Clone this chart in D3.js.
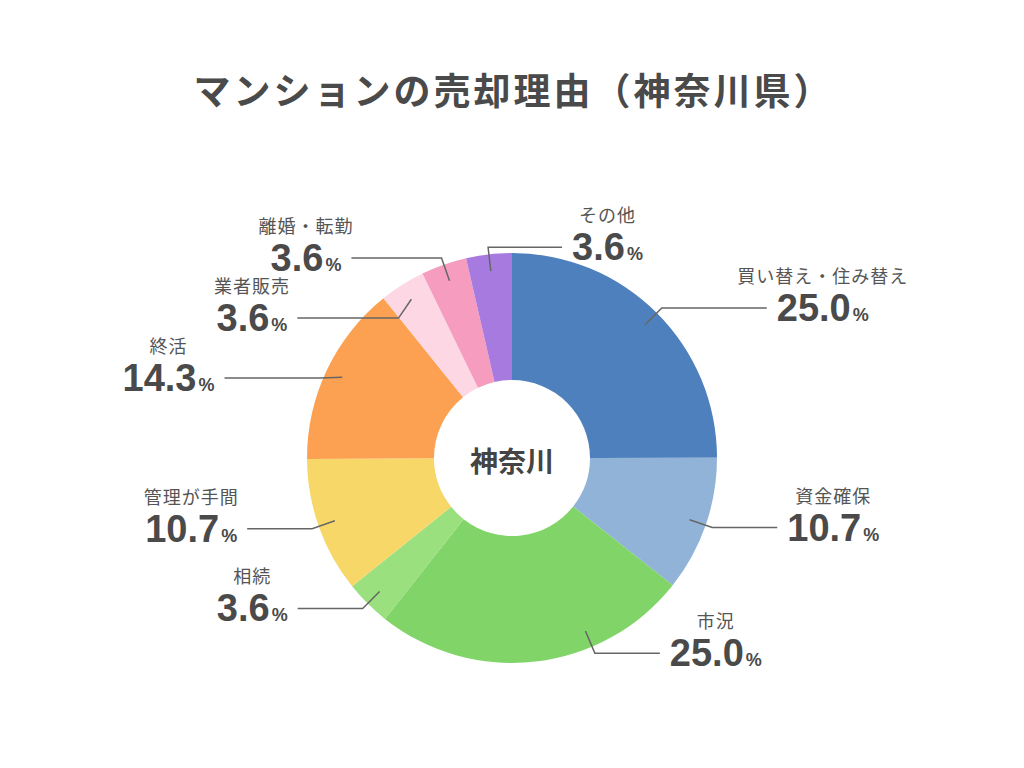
<!DOCTYPE html>
<html>
<head>
<meta charset="utf-8">
<script src="https://cdn.jsdelivr.net/npm/d3@7"></script>
<style>
  body { margin: 0; background: #fff; }
</style>
</head>
<body>
<div id="chart"></div>
<script>
var chartTitle = 'マンションの売却理由（神奈川県）';
var centerLabel = '神奈川';
var categories = ['買い替え・住み替え', '資金確保', '市況', '相続', '管理が手間', '終活', '業者販売', '離婚・転勤', 'その他'];
var shares = [25.0, 10.7, 25.0, 3.6, 10.7, 14.3, 3.6, 3.6, 3.6];
var colors = ['#4e80bd', '#92b3d8', '#80d468', '#9ae07f', '#f7d768', '#fca152', '#fdd8e4', '#f59cbf', '#a77ae0'];

var width = 1024;
var height = 768;
var cx = 512;
var cy = 458;
var outerR = 205;
var innerR = 78;

var svg = d3
  .select('#chart')
  .append('svg')
  .attr('width', width)
  .attr('height', height);

svg
  .append('text')
  .attr('x', cx)
  .attr('y', 89)
  .attr('text-anchor', 'middle')
  .attr('dominant-baseline', 'central')
  .attr('fill', '#4a4a4a')
  .attr('textLength', 637)
  .attr('lengthAdjust', 'spacing')
  .style('font', 'bold 37px "Noto Sans CJK JP"')
  .text(chartTitle);

var g = svg.append('g').attr('transform', 'translate(' + cx + ',' + cy + ')');

var pie = d3
  .pie()
  .sort(null)
  .value(function (d) {
    return d;
  });
var arcs = pie(shares);

var arc = d3.arc().innerRadius(innerR).outerRadius(outerR);

g.selectAll('path.slice')
  .data(arcs)
  .enter()
  .append('path')
  .attr('class', 'slice')
  .attr('d', arc)
  .attr('fill', function (d, i) {
    return colors[i];
  });

g.append('text')
  .attr('x', 0)
  .attr('y', 2)
  .attr('text-anchor', 'middle')
  .attr('dominant-baseline', 'central')
  .attr('fill', '#444')
  .style('font', 'bold 28px "Noto Sans CJK JP"')
  .text(centerLabel);

// leader lines + labels
function polar(a, r) {
  return [Math.sin(a) * r, -Math.cos(a) * r];
}

var labels = arcs.map(function (d, i) {
  var a = (d.startAngle + d.endAngle) / 2;
  // keep lines away from the very bottom of the ring
  var limit = (157 / 180) * Math.PI;
  if (a > limit && a < Math.PI) a = limit;
  var p0 = polar(a, 188);
  var p1 = polar(a, 212);
  var hLen = 65 + 80 * Math.max(0, Math.cos(a)) * Math.abs(Math.sin(a));
  return { i: i, a: a, p0: p0, p1: p1, hLen: hLen, right: Math.sin(a) > -0.15 };
});

var minGap = 60;
[true, false].forEach(function (side) {
  var list = labels
    .filter(function (l) {
      return l.right === side;
    })
    .sort(function (a, b) {
      return a.p1[1] - b.p1[1];
    });
  for (var k = 1; k < list.length; k++) {
    if (list[k].p1[1] - list[k - 1].p1[1] < minGap) {
      list[k].p1 = [list[k].p1[0], list[k - 1].p1[1] + minGap];
    }
  }
});

labels.forEach(function (l) {
  var endX = l.right ? l.p1[0] + l.hLen : l.p1[0] - l.hLen;
  g.append('polyline')
    .attr('points', [l.p0, l.p1, [endX, l.p1[1]]].join(' '))
    .attr('fill', 'none')
    .attr('stroke', '#666')
    .attr('stroke-width', 1.5);

  var tx = l.right ? endX + 10 : endX - 10;
  var val = g
    .append('text')
    .attr('x', tx)
    .attr('y', l.p1[1] + 13)
    .attr('text-anchor', l.right ? 'start' : 'end')
    .attr('fill', '#4a4a4a')
    .style('font', 'bold 38px "Liberation Sans", Arial, sans-serif');
  val.append('tspan').text(shares[l.i].toFixed(1));
  val
    .append('tspan')
    .attr('dx', 2)
    .style('font-size', '18px')
    .text('%');

  var bb = val.node().getBBox();
  g.append('text')
    .attr('x', bb.x + bb.width / 2)
    .attr('y', l.p1[1] - 25)
    .attr('text-anchor', 'middle')
    .attr('fill', '#555')
    .style('font', '18px "Noto Sans CJK JP"')
    .style('letter-spacing', '1px')
    .text(categories[l.i]);
});
</script>
</body>
</html>
